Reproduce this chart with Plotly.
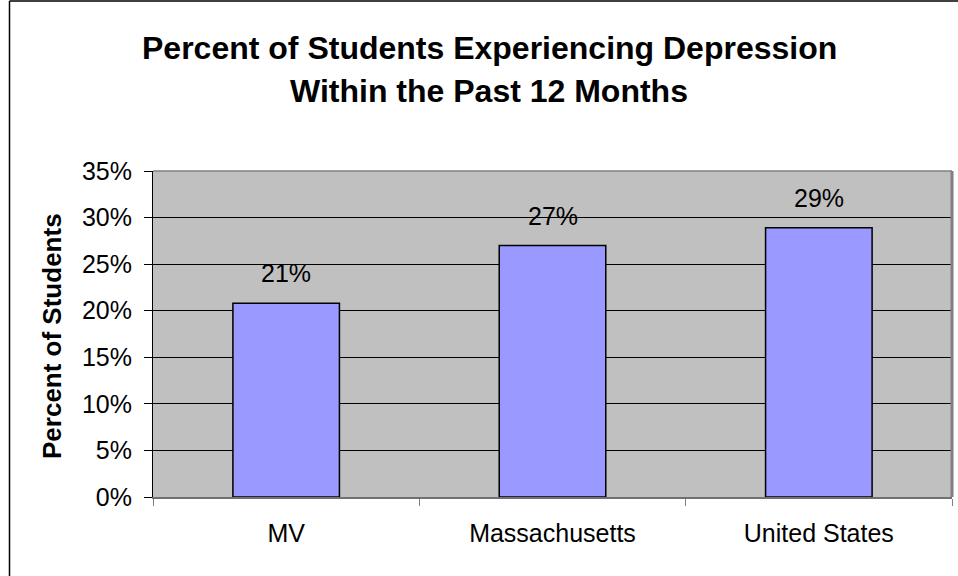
import plotly.graph_objects as go

# Share of students reporting depression in the past 12 months
regions = ["MV", "Massachusetts", "United States"]
pct_depressed = [0.208, 0.27, 0.289]
y_ticks = [0, 0.05, 0.10, 0.15, 0.20, 0.25, 0.30, 0.35]

W, H = 958, 576
M_L, M_R, M_T, M_B = 153, 6, 171, 79
PLOT_W = W - M_L - M_R
PLOT_H = H - M_T - M_B

FONT = "Liberation Sans, Arial, sans-serif"


def px_x(x):
    """Page pixel x -> paper coordinate."""
    return (x - M_L) / PLOT_W


def px_y(y):
    """Page pixel y (from top) -> paper coordinate."""
    return (H - M_B - y) / PLOT_H


fig = go.Figure(
    go.Bar(
        x=regions,
        y=pct_depressed,
        marker=dict(color="#9999FF", line=dict(color="#000000", width=1.5)),
        width=0.4,
        hoverinfo="x+y",
    )
)

# value labels above each bar
for r, v in zip(regions, pct_depressed):
    fig.add_annotation(
        x=r, y=v, text=f"{v:.0%}", showarrow=False,
        yanchor="bottom", yshift=14,
        font=dict(family=FONT, size=25, color="#000000"),
    )

# two-line chart title
title_lines = ["Percent of Students Experiencing Depression", "Within the Past 12 Months"]
for line, yc in zip(title_lines, [47.5, 91]):
    fig.add_annotation(
        xref="paper", yref="paper", x=px_x(489), y=px_y(yc),
        text=f"<b>{line}</b>", showarrow=False,
        xanchor="center", yanchor="middle",
        font=dict(family=FONT, size=32, color="#000000"),
    )

# y-axis title
fig.add_annotation(
    xref="paper", yref="paper", x=px_x(52), y=px_y(336),
    text="<b>Percent of Students</b>", showarrow=False, textangle=-90,
    xanchor="center", yanchor="middle",
    font=dict(family=FONT, size=26, color="#000000"),
)

shapes = [
    # outer chart frame (left and top edges)
    dict(type="line", xref="paper", yref="paper",
         x0=px_x(9.5), x1=px_x(9.5), y0=px_y(1), y1=px_y(H + 5),
         line=dict(color="#000000", width=1.5)),
    dict(type="line", xref="paper", yref="paper",
         x0=px_x(9.5), x1=px_x(W + 5), y0=px_y(1), y1=px_y(1),
         line=dict(color="#000000", width=1.5)),
    # plot area border on the top and right
    dict(type="line", xref="paper", yref="paper",
         x0=0, x1=1, y0=1, y1=1, line=dict(color="#808080", width=1.5)),
    dict(type="line", xref="paper", yref="paper",
         x0=1, x1=1, y0=0, y1=1, line=dict(color="#808080", width=3)),
]

fig.update_layout(
    width=W, height=H,
    margin=dict(l=M_L, r=M_R, t=M_T, b=M_B),
    paper_bgcolor="#FFFFFF",
    plot_bgcolor="#C0C0C0",
    showlegend=False,
    bargap=0.6,
    font=dict(family=FONT, size=25, color="#000000"),
    shapes=shapes,
    xaxis=dict(
        tickson="boundaries", ticks="outside", ticklen=7, tickcolor="#808080",
        showline=True, linecolor="#707070", linewidth=1.5,
        showgrid=False, tickfont=dict(size=25), ticklabelstandoff=13,
        fixedrange=True,
    ),
    yaxis=dict(
        range=[0, 0.35], tickvals=y_ticks, tickformat=".0%",
        ticks="outside", ticklen=8, tickcolor="#000000",
        showline=True, linecolor="#000000", linewidth=1,
        showgrid=True, gridcolor="#000000", gridwidth=1,
        zeroline=False, tickfont=dict(size=25), ticklabelstandoff=7,
        fixedrange=True,
    ),
)

fig.write_html("out.html")
